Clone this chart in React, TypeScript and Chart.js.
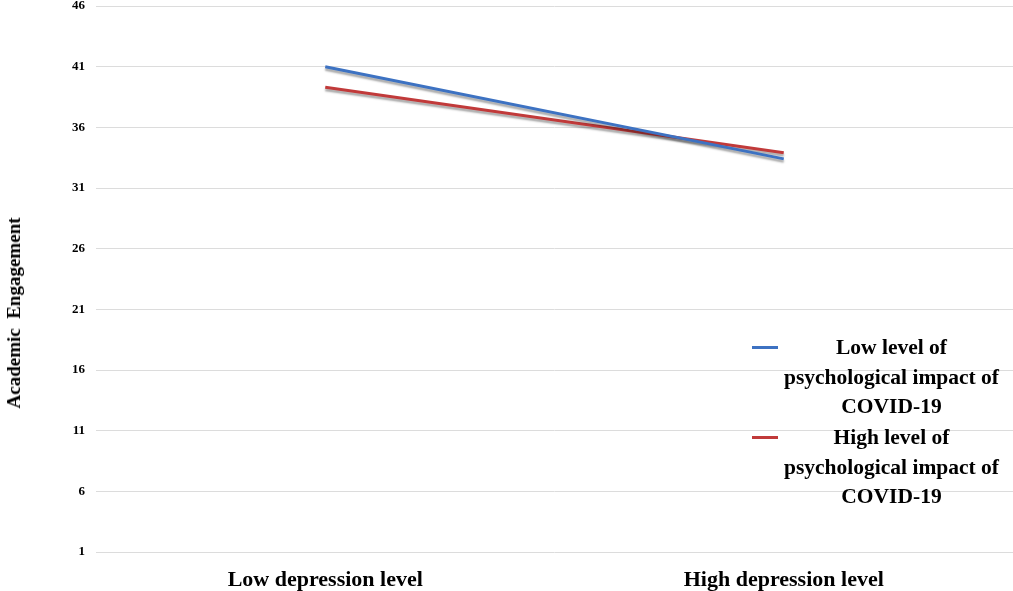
import { useEffect, useRef } from 'react';
import { Chart, registerables } from 'chart.js';

Chart.register(...registerables);

const categories = ['Low depression level', 'High depression level'];
const lowImpact = [41.0, 33.4];
const highImpact = [39.3, 33.9];
const seriesLabels = [
  ['Low level of', 'psychological impact of', 'COVID-19'],
  ['High level of', 'psychological impact of', 'COVID-19']
];
const yTitle = 'Academic  Engagement';
const yMin = 1;
const yMax = 46;
const yStep = 5;

const BLUE = '#3d72c2';
const RED = '#c13a3a';
const SERIF = '"Liberation Serif", "Times New Roman", serif';

// soft grey shadow under each line, like the office-style source
const shadowPlugin = {
  id: 'lineShadow',
  beforeDatasetDraw(chart: Chart) {
    const c = chart.ctx;
    c.save();
    c.shadowColor = 'rgba(0,0,0,0.35)';
    c.shadowBlur = 2;
    c.shadowOffsetX = 0;
    c.shadowOffsetY = 2.5;
  },
  afterDatasetDraw(chart: Chart) {
    chart.ctx.restore();
  }
};

export default function App() {
  const ref = useRef<HTMLCanvasElement | null>(null);

  useEffect(() => {
    document.body.style.margin = '0';
    if (!ref.current) return;
    const chart = new Chart(ref.current, {
      type: 'line',
      data: {
        labels: categories,
        datasets: [
          {
            label: seriesLabels[0].join(' '),
            data: lowImpact,
            borderColor: BLUE,
            backgroundColor: BLUE,
            borderWidth: 3,
            pointRadius: 0,
            tension: 0
          },
          {
            label: seriesLabels[1].join(' '),
            data: highImpact,
            borderColor: RED,
            backgroundColor: RED,
            borderWidth: 3,
            pointRadius: 0,
            tension: 0
          }
        ]
      },
      options: {
        responsive: true,
        maintainAspectRatio: false,
        animation: false,
        layout: { padding: { top: 6, right: 0, bottom: 0, left: 0 } },
        plugins: {
          legend: { display: false },
          tooltip: { enabled: false }
        },
        scales: {
          x: {
            offset: true,
            grid: { display: false },
            border: { display: false },
            ticks: {
              color: '#000',
              padding: 7,
              font: { family: SERIF, size: 22, weight: 'bold' },
              maxRotation: 0
            },
            afterFit: (s: { height: number }) => {
              s.height = 39;
            }
          },
          y: {
            min: yMin,
            max: yMax,
            grid: { color: '#dcdcdc', lineWidth: 1, drawTicks: false },
            border: { display: false },
            ticks: {
              stepSize: yStep,
              color: '#000',
              padding: 11,
              font: { family: SERIF, size: 13, weight: 'bold' }
            },
            afterFit: (s: { width: number; paddingTop: number; paddingBottom: number }) => {
              s.width = 96;
              s.paddingTop = 0;
              s.paddingBottom = 0;
            }
          }
        }
      },
      plugins: [shadowPlugin]
    });
    return () => chart.destroy();
  }, []);

  const colors = [BLUE, RED];
  const tops = [333, 423];

  return (
    <div style={{ position: 'relative', width: 1013, height: 591 }}>
      <canvas ref={ref} />
      {/* axis title sits lower than the plot centre in the source, so it is placed by hand */}
      <div
        style={{
          position: 'absolute',
          left: 14,
          top: 313,
          transform: 'translate(-50%, -50%) rotate(-90deg)',
          whiteSpace: 'pre',
          fontFamily: SERIF,
          fontWeight: 'bold',
          fontSize: 19,
          lineHeight: '22px',
          color: '#000'
        }}
      >
        {yTitle}
      </div>
      {seriesLabels.map((lines, i) => (
        <div
          key={i}
          style={{
            position: 'absolute',
            left: 752,
            top: tops[i],
            width: 261,
            display: 'flex',
            alignItems: 'flex-start',
            fontFamily: SERIF,
            fontWeight: 'bold',
            fontSize: 21.5,
            lineHeight: '29.5px',
            color: '#000'
          }}
        >
          <span
            style={{
              display: 'inline-block',
              width: 26,
              height: 3,
              marginTop: 13,
              background: colors[i],
              flex: 'none'
            }}
          />
          <div style={{ flex: 1, textAlign: 'center', marginLeft: -8 }}>
            {lines.map((l) => (
              <div key={l}>{l}</div>
            ))}
          </div>
        </div>
      ))}
    </div>
  );
}
